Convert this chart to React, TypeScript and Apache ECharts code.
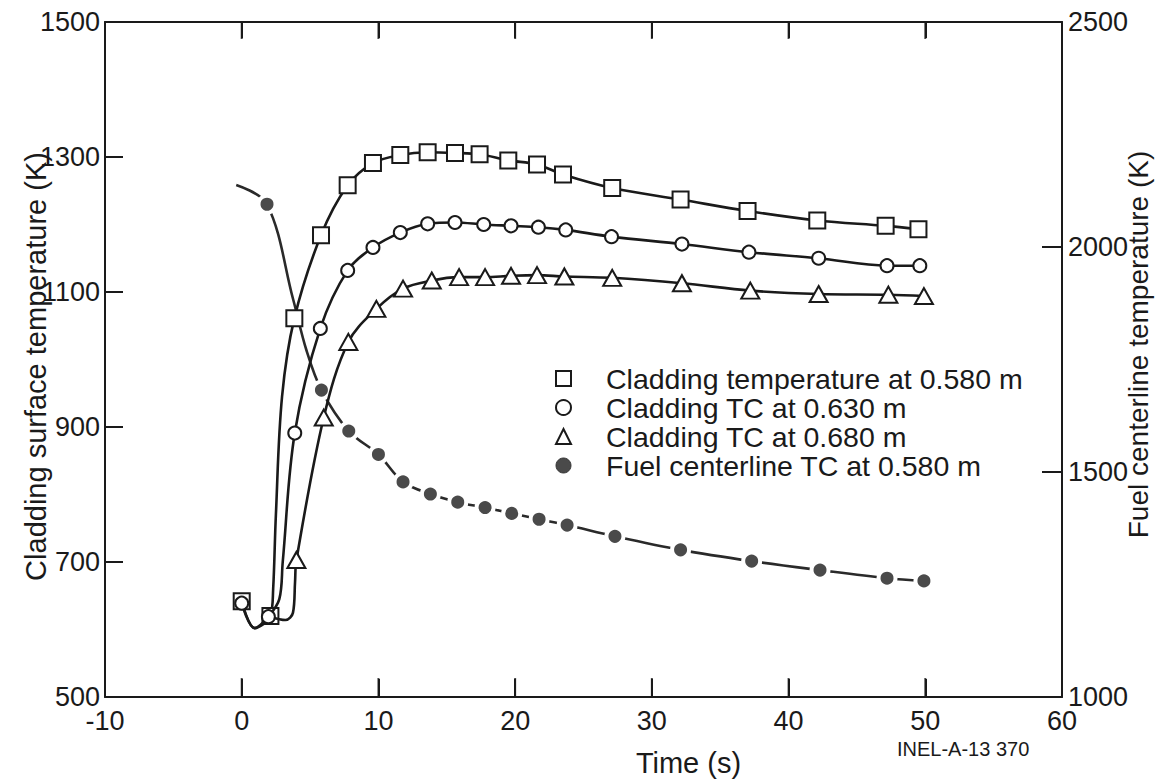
import React, { useEffect, useRef } from 'react';
import * as echarts from 'echarts';

const FONT = '"Liberation Sans", Arial, Helvetica, sans-serif';
const INK = '#1a1a1a';

const seriesNames = [
  'Cladding temperature at 0.580 m',
  'Cladding TC at 0.630 m',
  'Cladding TC at 0.680 m',
  'Fuel centerline TC at 0.580 m',
];

// Cladding temperature at 0.580 m (left axis, K) — marked points
const squareTime = [0, 2.1, 3.85, 5.8, 7.75, 9.6, 11.6, 13.6, 15.6, 17.4, 19.5, 21.6, 23.5, 27.1, 32.1, 37.0, 42.1, 47.1, 49.5];
const squareTemp = [642, 620, 1061, 1184, 1258, 1291, 1303, 1307, 1306, 1304, 1295, 1289, 1274, 1254, 1237, 1220, 1206, 1198, 1193];
// curve-only points (no marker)
const squareCurveTime = [0.95, 2.3, 2.5, 2.95];
const squareCurveTemp = [602, 660, 770, 945];

// Cladding TC at 0.630 m
const circleTime = [0, 1.95, 3.88, 5.75, 7.75, 9.6, 11.6, 13.6, 15.6, 17.7, 19.7, 21.7, 23.7, 27.05, 32.2, 37.1, 42.2, 47.2, 49.6];
const circleTemp = [639, 619, 891, 1046, 1132, 1166, 1188, 1201, 1203, 1200, 1198, 1196, 1192, 1182, 1171, 1159, 1150, 1139, 1139];
const circleCurveTime = [0.95, 2.75, 3.0];
const circleCurveTemp = [602, 645, 700];

// Cladding TC at 0.680 m
const triangleTime = [4.0, 6.0, 7.8, 9.85, 11.8, 13.9, 15.9, 17.8, 19.7, 21.6, 23.6, 27.1, 32.2, 37.2, 42.2, 47.3, 49.9];
const triangleTemp = [703, 914, 1026, 1075, 1105, 1117, 1122, 1122, 1124, 1125, 1123, 1121, 1113, 1102, 1097, 1096, 1094];
const triangleCurveTime = [2.1, 3.2, 3.75, 3.9];
const triangleCurveTemp = [619, 614, 625, 670];

// Fuel centerline TC at 0.580 m (right axis, K)
const fuelTime = [1.85, 5.83, 7.83, 10.0, 11.8, 13.8, 15.8, 17.8, 19.75, 21.75, 23.8, 27.3, 32.1, 37.3, 42.3, 47.2, 49.9];
const fuelTemp = [2095, 1682, 1591, 1539, 1478, 1451, 1433, 1421, 1408, 1395, 1382, 1357, 1327, 1302, 1282, 1264, 1258];
const fuelCurveTime = [-0.4, 3.75, 4.74];
const fuelCurveTemp = [2138, 1885, 1770];

const timeLabelValues = [-10, 0, 10, 20, 30, 40, 50, 60];
const timeTickValues = [0, 10, 20, 30, 40, 50];
const leftLabelValues = [500, 700, 900, 1100, 1300, 1500];
const leftTickValues = [700, 900, 1100, 1300];
const rightLabelValues = [1000, 1500, 2000, 2500];
const rightTickValues = [1500, 2000];
const leftMin = 500;
const leftMax = 1500;

function buildData(t: number[], v: number[], ct: number[], cv: number[]) {
  const marked = t.map((x, i) => ({ value: [x, v[i]] }));
  const hidden = ct.map((x, i) => ({ value: [x, cv[i]], symbol: 'none' }));
  return [...marked, ...hidden].sort((a, b) => a.value[0] - b.value[0]);
}

export default function App() {
  const ref = useRef<HTMLDivElement>(null);
  useEffect(() => {
    if (!ref.current) return;
    const chart = echarts.init(ref.current, undefined, { renderer: 'svg' });
    const openMarker = { color: '#ffffff', borderColor: INK, borderWidth: 2 };
    const cladLine = { color: INK, width: 2.6 };
    const labelStyle = { fontFamily: FONT, fontSize: 27, color: INK, lineHeight: 22, formatter: (v: number) => String(v) };
    const nameStyle = { fontFamily: FONT, fontSize: 29, color: INK };
    const tickLine = { color: INK, width: 2 };
    chart.setOption({
      animation: false,
      backgroundColor: '#ffffff',
      grid: { left: 105, right: 101, top: 22, bottom: 84, containLabel: false, outerBoundsMode: 'none' },
      xAxis: [
        {
          type: 'value', min: -10, max: 60, interval: 10, position: 'bottom',
          name: 'Time (s)', nameLocation: 'middle', nameGap: 51, nameMoveOverlap: false,
          nameTextStyle: { ...nameStyle, padding: [0, 0, 0, 210] },
          axisLine: { show: true, onZero: false, lineStyle: { color: INK, width: 2 } },
          axisTick: { show: true, inside: true, length: 18, customValues: timeTickValues, lineStyle: tickLine },
          axisLabel: { ...labelStyle, margin: 13, customValues: timeLabelValues },
          splitLine: { show: false },
        },
        {
          type: 'value', min: -10, max: 60, interval: 10, position: 'top',
          axisLine: { show: true, onZero: false, lineStyle: { color: INK, width: 2 } },
          axisTick: { show: true, inside: true, length: 16, customValues: timeTickValues, lineStyle: tickLine },
          axisLabel: { show: false },
          splitLine: { show: false },
        },
      ],
      yAxis: [
        {
          type: 'value', min: leftMin, max: leftMax, interval: 100, position: 'left',
          name: 'Cladding surface temperature (K)', nameLocation: 'middle', nameRotate: 90, nameGap: 55,
          nameMoveOverlap: false,
          nameTextStyle: { ...nameStyle, padding: [0, 14, 0, 0] },
          axisLine: { show: true, onZero: false, lineStyle: { color: INK, width: 2 } },
          axisTick: { show: true, inside: true, length: 18, customValues: leftTickValues, lineStyle: tickLine },
          axisLabel: { ...labelStyle, margin: 5, customValues: leftLabelValues },
          splitLine: { show: false },
        },
        {
          type: 'value', min: 1000, max: 2500, interval: 500, position: 'right',
          name: 'Fuel centerline temperature (K)', nameLocation: 'middle', nameRotate: 90, nameGap: 62,
          nameMoveOverlap: false,
          nameTextStyle: { ...nameStyle, fontSize: 28, padding: [0, 0, 0, 30] },
          axisLine: { show: true, onZero: false, lineStyle: { color: INK, width: 2 } },
          axisTick: { show: true, inside: true, length: 20, customValues: rightTickValues, lineStyle: tickLine },
          axisLabel: { ...labelStyle, margin: 6, customValues: rightLabelValues },
          splitLine: { show: false },
        },
      ],
      legend: {
        orient: 'vertical', left: 555, top: 364, padding: 0, itemWidth: 15, itemHeight: 15, itemGap: 0,
        textStyle: { fontFamily: FONT, fontSize: 28.5, color: INK, lineHeight: 28.5, padding: [0, 0, 0, 30] },
        data: [
          { name: seriesNames[0], icon: 'rect', itemStyle: { color: '#fff', borderColor: INK, borderWidth: 2 } },
          { name: seriesNames[1], icon: 'circle', itemStyle: { color: '#fff', borderColor: INK, borderWidth: 2 } },
          { name: seriesNames[2], icon: 'triangle', itemStyle: { color: '#fff', borderColor: INK, borderWidth: 2 } },
          { name: seriesNames[3], icon: 'circle', itemStyle: { color: '#4a4a4a', borderColor: '#333', borderWidth: 1 } },
        ],
      },
      graphic: [
        {
          type: 'text', x: 897, y: 749,
          style: { text: 'INEL-A-13 370', font: `20px ${FONT}`, fill: INK, verticalAlign: 'middle' },
        },
      ],
      series: [
        {
          // frame tick marks on the time axis (bottom and top edges), placed through the axis scales
          name: 'time-axis ticks', type: 'scatter', xAxisIndex: 0, yAxisIndex: 0,
          silent: true, clip: false, z: 10,
          symbol: 'rect',
          data: [
            ...timeTickValues.map((v) => ({ value: [v, leftMin], symbolSize: [2, 19], symbolOffset: [0, -9.5] })),
            ...timeTickValues.map((v) => ({ value: [v, leftMax], symbolSize: [2, 17], symbolOffset: [0, 8.5] })),
          ],
          itemStyle: { color: INK, borderWidth: 0 },
          tooltip: { show: false },
        },
        {
          // plotted against the top time axis (identical scale to the bottom one)
          name: seriesNames[3], type: 'line', xAxisIndex: 1, yAxisIndex: 1,
          data: buildData(fuelTime, fuelTemp, fuelCurveTime, fuelCurveTemp),
          smooth: 0.35, showAllSymbol: true,
          symbol: 'circle', symbolSize: 17,
          itemStyle: { color: '#4a4a4a', borderColor: '#ffffff', borderWidth: 4 },
          lineStyle: { color: '#2a2a2a', width: 2.6 },
          z: 2,
        },
        {
          name: seriesNames[0], type: 'line', xAxisIndex: 0, yAxisIndex: 0,
          data: buildData(squareTime, squareTemp, squareCurveTime, squareCurveTemp),
          smooth: 0.35, showAllSymbol: true,
          symbol: 'rect', symbolSize: 16,
          itemStyle: openMarker, lineStyle: cladLine, z: 3,
        },
        {
          name: seriesNames[1], type: 'line', xAxisIndex: 0, yAxisIndex: 0,
          data: buildData(circleTime, circleTemp, circleCurveTime, circleCurveTemp),
          smooth: 0.35, showAllSymbol: true,
          symbol: 'circle', symbolSize: 13,
          itemStyle: openMarker, lineStyle: cladLine, z: 4,
        },
        {
          name: seriesNames[2], type: 'line', xAxisIndex: 0, yAxisIndex: 0,
          data: buildData(triangleTime, triangleTemp, triangleCurveTime, triangleCurveTemp),
          smooth: 0.35, showAllSymbol: true,
          symbol: 'triangle', symbolSize: [18, 16],
          itemStyle: openMarker, lineStyle: cladLine, z: 4,
        },
      ],
    });
    return () => chart.dispose();
  }, []);
  return (
    <div
      ref={ref}
      style={{ position: 'fixed', left: 0, top: 0, width: 1163, height: 781, background: '#fff' }}
    />
  );
}
